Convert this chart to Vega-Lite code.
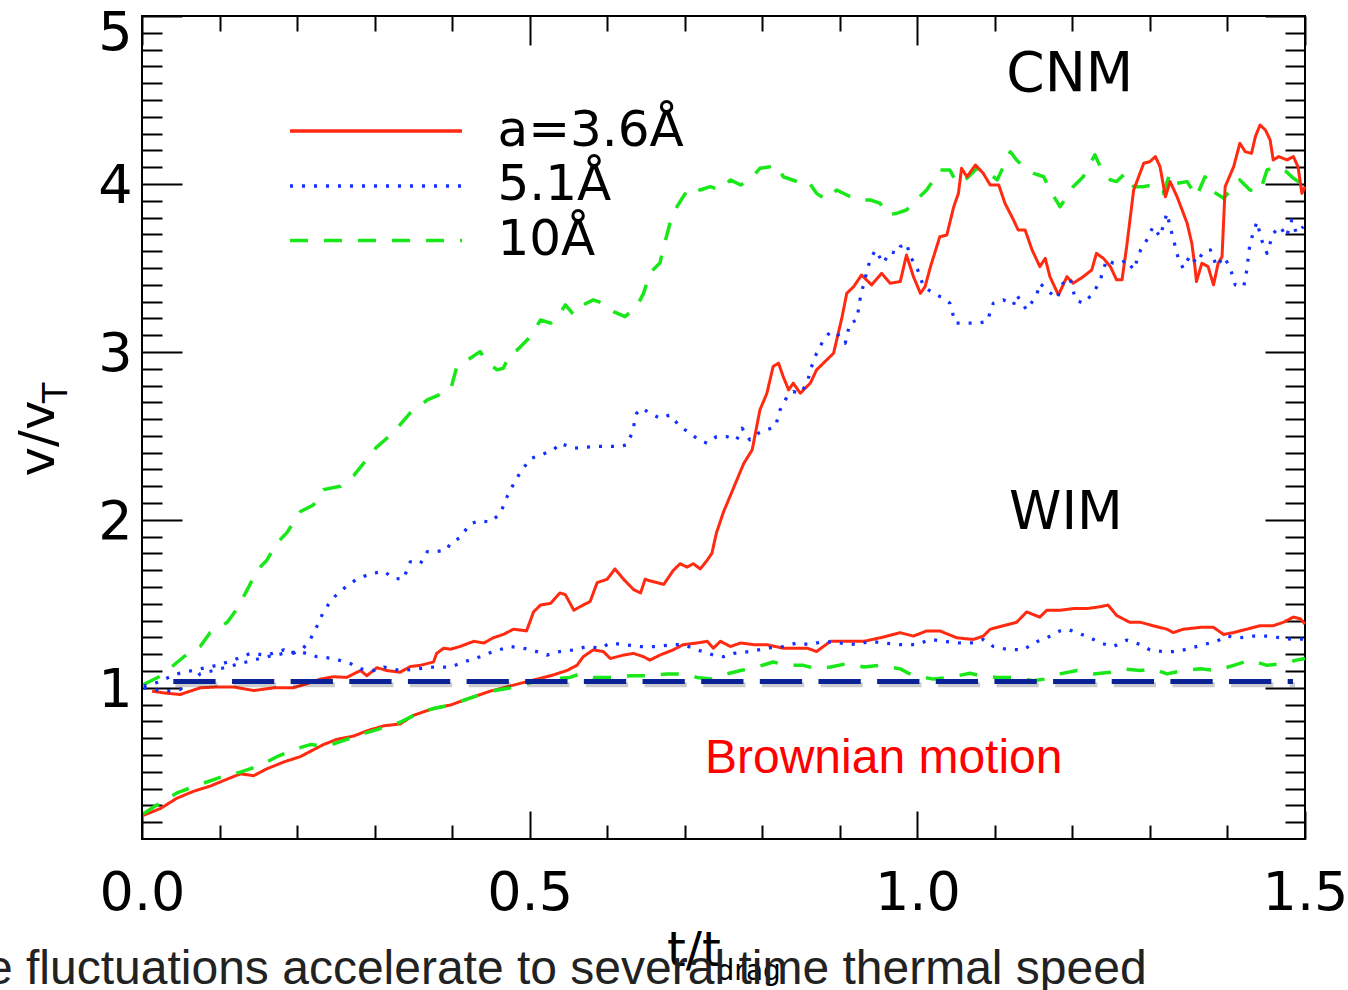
{
"$schema": "https://vega.github.io/schema/vega-lite/v6.json",
"width": 1163, "height": 823,
"autosize": {"type": "none"},
"padding": {"left": 142, "top": 16, "right": 43, "bottom": 151},
"background": "white",
"config": {
  "view": {"stroke": "black", "strokeWidth": 2},
  "axis": {"grid": false, "domain": false, "labelFont": "DejaVu Sans", "titleFont": "DejaVu Sans", "labelColor": "black", "titleColor": "black", "tickColor": "black", "tickWidth": 2, "titleFontWeight": "normal"}
},
"resolve": {"axis": {"x": "independent", "y": "independent"}},
"datasets": {
"curves": [
{"t":0.002,"v":1.02,"a":"10","e":"C"},{"t":0.024,"v":1.07,"a":"10","e":"C"},{"t":0.054,"v":1.185,"a":"10","e":"C"},{"t":0.075,"v":1.246,"a":"10","e":"C"},{"t":0.088,"v":1.33,"a":"10","e":"C"},{"t":0.110,"v":1.39,"a":"10","e":"C"},{"t":0.123,"v":1.473,"a":"10","e":"C"},{"t":0.137,"v":1.595,"a":"10","e":"C"},{"t":0.148,"v":1.698,"a":"10","e":"C"},{"t":0.161,"v":1.76,"a":"10","e":"C"},{"t":0.174,"v":1.863,"a":"10","e":"C"},{"t":0.187,"v":1.924,"a":"10","e":"C"},{"t":0.204,"v":2.048,"a":"10","e":"C"},{"t":0.221,"v":2.089,"a":"10","e":"C"},{"t":0.234,"v":2.18,"a":"10","e":"C"},{"t":0.256,"v":2.2,"a":"10","e":"C"},{"t":0.273,"v":2.263,"a":"10","e":"C"},{"t":0.290,"v":2.36,"a":"10","e":"C"},{"t":0.302,"v":2.43,"a":"10","e":"C"},{"t":0.324,"v":2.52,"a":"10","e":"C"},{"t":0.346,"v":2.637,"a":"10","e":"C"},{"t":0.368,"v":2.714,"a":"10","e":"C"},{"t":0.398,"v":2.774,"a":"10","e":"C"},{"t":0.406,"v":2.913,"a":"10","e":"C"},{"t":0.420,"v":2.952,"a":"10","e":"C"},{"t":0.436,"v":3.002,"a":"10","e":"C"},{"t":0.445,"v":2.942,"a":"10","e":"C"},{"t":0.458,"v":2.893,"a":"10","e":"C"},{"t":0.466,"v":2.903,"a":"10","e":"C"},{"t":0.475,"v":2.992,"a":"10","e":"C"},{"t":0.484,"v":3.012,"a":"10","e":"C"},{"t":0.501,"v":3.091,"a":"10","e":"C"},{"t":0.514,"v":3.19,"a":"10","e":"C"},{"t":0.527,"v":3.171,"a":"10","e":"C"},{"t":0.535,"v":3.2,"a":"10","e":"C"},{"t":0.546,"v":3.28,"a":"10","e":"C"},{"t":0.557,"v":3.22,"a":"10","e":"C"},{"t":0.569,"v":3.28,"a":"10","e":"C"},{"t":0.582,"v":3.31,"a":"10","e":"C"},{"t":0.595,"v":3.29,"a":"10","e":"C"},{"t":0.608,"v":3.24,"a":"10","e":"C"},{"t":0.623,"v":3.21,"a":"10","e":"C"},{"t":0.638,"v":3.27,"a":"10","e":"C"},{"t":0.647,"v":3.35,"a":"10","e":"C"},{"t":0.655,"v":3.47,"a":"10","e":"C"},{"t":0.668,"v":3.53,"a":"10","e":"C"},{"t":0.673,"v":3.627,"a":"10","e":"C"},{"t":0.681,"v":3.766,"a":"10","e":"C"},{"t":0.690,"v":3.865,"a":"10","e":"C"},{"t":0.698,"v":3.924,"a":"10","e":"C"},{"t":0.707,"v":3.984,"a":"10","e":"C"},{"t":0.720,"v":3.964,"a":"10","e":"C"},{"t":0.733,"v":3.984,"a":"10","e":"C"},{"t":0.746,"v":3.964,"a":"10","e":"C"},{"t":0.759,"v":4.024,"a":"10","e":"C"},{"t":0.772,"v":3.994,"a":"10","e":"C"},{"t":0.784,"v":4.024,"a":"10","e":"C"},{"t":0.797,"v":4.093,"a":"10","e":"C"},{"t":0.810,"v":4.103,"a":"10","e":"C"},{"t":0.819,"v":4.113,"a":"10","e":"C"},{"t":0.827,"v":4.043,"a":"10","e":"C"},{"t":0.845,"v":4.014,"a":"10","e":"C"},{"t":0.858,"v":4.024,"a":"10","e":"C"},{"t":0.870,"v":3.944,"a":"10","e":"C"},{"t":0.883,"v":3.905,"a":"10","e":"C"},{"t":0.896,"v":3.964,"a":"10","e":"C"},{"t":0.909,"v":3.934,"a":"10","e":"C"},{"t":0.922,"v":3.905,"a":"10","e":"C"},{"t":0.939,"v":3.905,"a":"10","e":"C"},{"t":0.952,"v":3.885,"a":"10","e":"C"},{"t":0.961,"v":3.815,"a":"10","e":"C"},{"t":0.974,"v":3.826,"a":"10","e":"C"},{"t":0.986,"v":3.845,"a":"10","e":"C"},{"t":0.999,"v":3.905,"a":"10","e":"C"},{"t":1.012,"v":3.964,"a":"10","e":"C"},{"t":1.021,"v":4.024,"a":"10","e":"C"},{"t":1.029,"v":4.083,"a":"10","e":"C"},{"t":1.042,"v":4.083,"a":"10","e":"C"},{"t":1.051,"v":4.004,"a":"10","e":"C"},{"t":1.064,"v":4.034,"a":"10","e":"C"},{"t":1.077,"v":4.093,"a":"10","e":"C"},{"t":1.090,"v":4.073,"a":"10","e":"C"},{"t":1.103,"v":4.024,"a":"10","e":"C"},{"t":1.111,"v":4.103,"a":"10","e":"C"},{"t":1.120,"v":4.192,"a":"10","e":"C"},{"t":1.128,"v":4.143,"a":"10","e":"C"},{"t":1.137,"v":4.103,"a":"10","e":"C"},{"t":1.150,"v":4.063,"a":"10","e":"C"},{"t":1.163,"v":4.043,"a":"10","e":"C"},{"t":1.171,"v":3.964,"a":"10","e":"C"},{"t":1.184,"v":3.865,"a":"10","e":"C"},{"t":1.193,"v":3.924,"a":"10","e":"C"},{"t":1.201,"v":3.984,"a":"10","e":"C"},{"t":1.214,"v":4.043,"a":"10","e":"C"},{"t":1.223,"v":4.123,"a":"10","e":"C"},{"t":1.229,"v":4.173,"a":"10","e":"C"},{"t":1.236,"v":4.103,"a":"10","e":"C"},{"t":1.249,"v":4.024,"a":"10","e":"C"},{"t":1.257,"v":4.014,"a":"10","e":"C"},{"t":1.268,"v":4.063,"a":"10","e":"C"},{"t":1.279,"v":3.984,"a":"10","e":"C"},{"t":1.292,"v":3.984,"a":"10","e":"C"},{"t":1.304,"v":3.994,"a":"10","e":"C"},{"t":1.317,"v":3.944,"a":"10","e":"C"},{"t":1.326,"v":4.063,"a":"10","e":"C"},{"t":1.335,"v":4.004,"a":"10","e":"C"},{"t":1.348,"v":4.014,"a":"10","e":"C"},{"t":1.360,"v":3.924,"a":"10","e":"C"},{"t":1.371,"v":4.043,"a":"10","e":"C"},{"t":1.382,"v":3.954,"a":"10","e":"C"},{"t":1.395,"v":3.915,"a":"10","e":"C"},{"t":1.408,"v":3.984,"a":"10","e":"C"},{"t":1.416,"v":4.024,"a":"10","e":"C"},{"t":1.429,"v":3.964,"a":"10","e":"C"},{"t":1.442,"v":3.954,"a":"10","e":"C"},{"t":1.451,"v":4.083,"a":"10","e":"C"},{"t":1.464,"v":4.103,"a":"10","e":"C"},{"t":1.476,"v":4.073,"a":"10","e":"C"},{"t":1.485,"v":4.034,"a":"10","e":"C"},{"t":1.498,"v":3.994,"a":"10","e":"C"},

{"t":0.013,"v":0.98,"a":"3.6","e":"C"},{"t":0.028,"v":0.97,"a":"3.6","e":"C"},{"t":0.049,"v":0.96,"a":"3.6","e":"C"},{"t":0.075,"v":1.0,"a":"3.6","e":"C"},{"t":0.097,"v":1.005,"a":"3.6","e":"C"},{"t":0.118,"v":1.005,"a":"3.6","e":"C"},{"t":0.144,"v":0.984,"a":"3.6","e":"C"},{"t":0.170,"v":1.0,"a":"3.6","e":"C"},{"t":0.195,"v":1.0,"a":"3.6","e":"C"},{"t":0.213,"v":1.025,"a":"3.6","e":"C"},{"t":0.230,"v":1.052,"a":"3.6","e":"C"},{"t":0.247,"v":1.066,"a":"3.6","e":"C"},{"t":0.264,"v":1.062,"a":"3.6","e":"C"},{"t":0.273,"v":1.083,"a":"3.6","e":"C"},{"t":0.282,"v":1.103,"a":"3.6","e":"C"},{"t":0.290,"v":1.072,"a":"3.6","e":"C"},{"t":0.303,"v":1.12,"a":"3.6","e":"C"},{"t":0.316,"v":1.103,"a":"3.6","e":"C"},{"t":0.333,"v":1.093,"a":"3.6","e":"C"},{"t":0.346,"v":1.127,"a":"3.6","e":"C"},{"t":0.359,"v":1.134,"a":"3.6","e":"C"},{"t":0.376,"v":1.154,"a":"3.6","e":"C"},{"t":0.380,"v":1.205,"a":"3.6","e":"C"},{"t":0.389,"v":1.236,"a":"3.6","e":"C"},{"t":0.398,"v":1.23,"a":"3.6","e":"C"},{"t":0.410,"v":1.246,"a":"3.6","e":"C"},{"t":0.428,"v":1.277,"a":"3.6","e":"C"},{"t":0.441,"v":1.267,"a":"3.6","e":"C"},{"t":0.453,"v":1.298,"a":"3.6","e":"C"},{"t":0.466,"v":1.318,"a":"3.6","e":"C"},{"t":0.479,"v":1.349,"a":"3.6","e":"C"},{"t":0.496,"v":1.339,"a":"3.6","e":"C"},{"t":0.505,"v":1.452,"a":"3.6","e":"C"},{"t":0.514,"v":1.493,"a":"3.6","e":"C"},{"t":0.527,"v":1.503,"a":"3.6","e":"C"},{"t":0.539,"v":1.565,"a":"3.6","e":"C"},{"t":0.546,"v":1.555,"a":"3.6","e":"C"},{"t":0.557,"v":1.462,"a":"3.6","e":"C"},{"t":0.569,"v":1.493,"a":"3.6","e":"C"},{"t":0.578,"v":1.514,"a":"3.6","e":"C"},{"t":0.587,"v":1.626,"a":"3.6","e":"C"},{"t":0.600,"v":1.647,"a":"3.6","e":"C"},{"t":0.610,"v":1.708,"a":"3.6","e":"C"},{"t":0.621,"v":1.647,"a":"3.6","e":"C"},{"t":0.634,"v":1.585,"a":"3.6","e":"C"},{"t":0.643,"v":1.565,"a":"3.6","e":"C"},{"t":0.649,"v":1.647,"a":"3.6","e":"C"},{"t":0.655,"v":1.637,"a":"3.6","e":"C"},{"t":0.673,"v":1.616,"a":"3.6","e":"C"},{"t":0.685,"v":1.698,"a":"3.6","e":"C"},{"t":0.694,"v":1.739,"a":"3.6","e":"C"},{"t":0.703,"v":1.719,"a":"3.6","e":"C"},{"t":0.711,"v":1.739,"a":"3.6","e":"C"},{"t":0.720,"v":1.708,"a":"3.6","e":"C"},{"t":0.729,"v":1.76,"a":"3.6","e":"C"},{"t":0.735,"v":1.801,"a":"3.6","e":"C"},{"t":0.741,"v":1.924,"a":"3.6","e":"C"},{"t":0.750,"v":2.047,"a":"3.6","e":"C"},{"t":0.763,"v":2.191,"a":"3.6","e":"C"},{"t":0.776,"v":2.335,"a":"3.6","e":"C"},{"t":0.787,"v":2.417,"a":"3.6","e":"C"},{"t":0.797,"v":2.655,"a":"3.6","e":"C"},{"t":0.806,"v":2.754,"a":"3.6","e":"C"},{"t":0.814,"v":2.913,"a":"3.6","e":"C"},{"t":0.821,"v":2.933,"a":"3.6","e":"C"},{"t":0.827,"v":2.853,"a":"3.6","e":"C"},{"t":0.834,"v":2.774,"a":"3.6","e":"C"},{"t":0.840,"v":2.814,"a":"3.6","e":"C"},{"t":0.849,"v":2.754,"a":"3.6","e":"C"},{"t":0.862,"v":2.814,"a":"3.6","e":"C"},{"t":0.870,"v":2.893,"a":"3.6","e":"C"},{"t":0.883,"v":2.952,"a":"3.6","e":"C"},{"t":0.892,"v":2.992,"a":"3.6","e":"C"},{"t":0.898,"v":3.111,"a":"3.6","e":"C"},{"t":0.903,"v":3.21,"a":"3.6","e":"C"},{"t":0.909,"v":3.349,"a":"3.6","e":"C"},{"t":0.918,"v":3.389,"a":"3.6","e":"C"},{"t":0.928,"v":3.458,"a":"3.6","e":"C"},{"t":0.941,"v":3.399,"a":"3.6","e":"C"},{"t":0.954,"v":3.468,"a":"3.6","e":"C"},{"t":0.965,"v":3.409,"a":"3.6","e":"C"},{"t":0.978,"v":3.419,"a":"3.6","e":"C"},{"t":0.986,"v":3.577,"a":"3.6","e":"C"},{"t":0.995,"v":3.448,"a":"3.6","e":"C"},{"t":1.004,"v":3.349,"a":"3.6","e":"C"},{"t":1.010,"v":3.389,"a":"3.6","e":"C"},{"t":1.017,"v":3.508,"a":"3.6","e":"C"},{"t":1.029,"v":3.686,"a":"3.6","e":"C"},{"t":1.038,"v":3.696,"a":"3.6","e":"C"},{"t":1.047,"v":3.865,"a":"3.6","e":"C"},{"t":1.053,"v":3.944,"a":"3.6","e":"C"},{"t":1.057,"v":4.093,"a":"3.6","e":"C"},{"t":1.064,"v":4.043,"a":"3.6","e":"C"},{"t":1.075,"v":4.113,"a":"3.6","e":"C"},{"t":1.085,"v":4.063,"a":"3.6","e":"C"},{"t":1.094,"v":3.994,"a":"3.6","e":"C"},{"t":1.105,"v":3.994,"a":"3.6","e":"C"},{"t":1.113,"v":3.885,"a":"3.6","e":"C"},{"t":1.124,"v":3.786,"a":"3.6","e":"C"},{"t":1.130,"v":3.726,"a":"3.6","e":"C"},{"t":1.139,"v":3.726,"a":"3.6","e":"C"},{"t":1.148,"v":3.607,"a":"3.6","e":"C"},{"t":1.158,"v":3.508,"a":"3.6","e":"C"},{"t":1.165,"v":3.557,"a":"3.6","e":"C"},{"t":1.171,"v":3.448,"a":"3.6","e":"C"},{"t":1.182,"v":3.339,"a":"3.6","e":"C"},{"t":1.193,"v":3.448,"a":"3.6","e":"C"},{"t":1.201,"v":3.409,"a":"3.6","e":"C"},{"t":1.214,"v":3.448,"a":"3.6","e":"C"},{"t":1.225,"v":3.488,"a":"3.6","e":"C"},{"t":1.231,"v":3.587,"a":"3.6","e":"C"},{"t":1.240,"v":3.557,"a":"3.6","e":"C"},{"t":1.249,"v":3.508,"a":"3.6","e":"C"},{"t":1.257,"v":3.429,"a":"3.6","e":"C"},{"t":1.264,"v":3.429,"a":"3.6","e":"C"},{"t":1.270,"v":3.627,"a":"3.6","e":"C"},{"t":1.279,"v":3.964,"a":"3.6","e":"C"},{"t":1.292,"v":4.123,"a":"3.6","e":"C"},{"t":1.300,"v":4.133,"a":"3.6","e":"C"},{"t":1.307,"v":4.163,"a":"3.6","e":"C"},{"t":1.313,"v":4.103,"a":"3.6","e":"C"},{"t":1.320,"v":3.924,"a":"3.6","e":"C"},{"t":1.326,"v":4.014,"a":"3.6","e":"C"},{"t":1.335,"v":3.924,"a":"3.6","e":"C"},{"t":1.348,"v":3.766,"a":"3.6","e":"C"},{"t":1.354,"v":3.647,"a":"3.6","e":"C"},{"t":1.358,"v":3.508,"a":"3.6","e":"C"},{"t":1.360,"v":3.419,"a":"3.6","e":"C"},{"t":1.367,"v":3.528,"a":"3.6","e":"C"},{"t":1.375,"v":3.508,"a":"3.6","e":"C"},{"t":1.382,"v":3.399,"a":"3.6","e":"C"},{"t":1.388,"v":3.528,"a":"3.6","e":"C"},{"t":1.393,"v":3.567,"a":"3.6","e":"C"},{"t":1.397,"v":3.984,"a":"3.6","e":"C"},{"t":1.408,"v":4.103,"a":"3.6","e":"C"},{"t":1.416,"v":4.242,"a":"3.6","e":"C"},{"t":1.423,"v":4.192,"a":"3.6","e":"C"},{"t":1.431,"v":4.182,"a":"3.6","e":"C"},{"t":1.436,"v":4.282,"a":"3.6","e":"C"},{"t":1.442,"v":4.351,"a":"3.6","e":"C"},{"t":1.449,"v":4.321,"a":"3.6","e":"C"},{"t":1.455,"v":4.262,"a":"3.6","e":"C"},{"t":1.459,"v":4.143,"a":"3.6","e":"C"},{"t":1.466,"v":4.163,"a":"3.6","e":"C"},{"t":1.477,"v":4.143,"a":"3.6","e":"C"},{"t":1.485,"v":4.163,"a":"3.6","e":"C"},{"t":1.491,"v":4.103,"a":"3.6","e":"C"},{"t":1.496,"v":3.944,"a":"3.6","e":"C"},{"t":1.500,"v":3.984,"a":"3.6","e":"C"},

{"t":0.002,"v":1.011,"a":"5.1","e":"C"},{"t":0.019,"v":1.031,"a":"5.1","e":"C"},{"t":0.045,"v":1.083,"a":"5.1","e":"C"},{"t":0.075,"v":1.113,"a":"5.1","e":"C"},{"t":0.097,"v":1.134,"a":"5.1","e":"C"},{"t":0.118,"v":1.165,"a":"5.1","e":"C"},{"t":0.140,"v":1.205,"a":"5.1","e":"C"},{"t":0.161,"v":1.195,"a":"5.1","e":"C"},{"t":0.183,"v":1.226,"a":"5.1","e":"C"},{"t":0.195,"v":1.205,"a":"5.1","e":"C"},{"t":0.208,"v":1.236,"a":"5.1","e":"C"},{"t":0.217,"v":1.288,"a":"5.1","e":"C"},{"t":0.226,"v":1.37,"a":"5.1","e":"C"},{"t":0.234,"v":1.452,"a":"5.1","e":"C"},{"t":0.243,"v":1.514,"a":"5.1","e":"C"},{"t":0.251,"v":1.555,"a":"5.1","e":"C"},{"t":0.264,"v":1.606,"a":"5.1","e":"C"},{"t":0.277,"v":1.647,"a":"5.1","e":"C"},{"t":0.294,"v":1.678,"a":"5.1","e":"C"},{"t":0.312,"v":1.694,"a":"5.1","e":"C"},{"t":0.324,"v":1.653,"a":"5.1","e":"C"},{"t":0.337,"v":1.647,"a":"5.1","e":"C"},{"t":0.346,"v":1.75,"a":"5.1","e":"C"},{"t":0.359,"v":1.739,"a":"5.1","e":"C"},{"t":0.368,"v":1.811,"a":"5.1","e":"C"},{"t":0.380,"v":1.811,"a":"5.1","e":"C"},{"t":0.393,"v":1.821,"a":"5.1","e":"C"},{"t":0.398,"v":1.863,"a":"5.1","e":"C"},{"t":0.410,"v":1.893,"a":"5.1","e":"C"},{"t":0.423,"v":1.976,"a":"5.1","e":"C"},{"t":0.436,"v":1.996,"a":"5.1","e":"C"},{"t":0.449,"v":1.986,"a":"5.1","e":"C"},{"t":0.462,"v":2.037,"a":"5.1","e":"C"},{"t":0.471,"v":2.139,"a":"5.1","e":"C"},{"t":0.479,"v":2.211,"a":"5.1","e":"C"},{"t":0.488,"v":2.283,"a":"5.1","e":"C"},{"t":0.501,"v":2.365,"a":"5.1","e":"C"},{"t":0.514,"v":2.386,"a":"5.1","e":"C"},{"t":0.531,"v":2.417,"a":"5.1","e":"C"},{"t":0.539,"v":2.456,"a":"5.1","e":"C"},{"t":0.557,"v":2.427,"a":"5.1","e":"C"},{"t":0.587,"v":2.437,"a":"5.1","e":"C"},{"t":0.613,"v":2.437,"a":"5.1","e":"C"},{"t":0.625,"v":2.446,"a":"5.1","e":"C"},{"t":0.632,"v":2.516,"a":"5.1","e":"C"},{"t":0.638,"v":2.635,"a":"5.1","e":"C"},{"t":0.645,"v":2.665,"a":"5.1","e":"C"},{"t":0.655,"v":2.635,"a":"5.1","e":"C"},{"t":0.668,"v":2.605,"a":"5.1","e":"C"},{"t":0.681,"v":2.625,"a":"5.1","e":"C"},{"t":0.694,"v":2.555,"a":"5.1","e":"C"},{"t":0.707,"v":2.516,"a":"5.1","e":"C"},{"t":0.718,"v":2.476,"a":"5.1","e":"C"},{"t":0.729,"v":2.456,"a":"5.1","e":"C"},{"t":0.741,"v":2.496,"a":"5.1","e":"C"},{"t":0.754,"v":2.496,"a":"5.1","e":"C"},{"t":0.767,"v":2.476,"a":"5.1","e":"C"},{"t":0.774,"v":2.546,"a":"5.1","e":"C"},{"t":0.784,"v":2.476,"a":"5.1","e":"C"},{"t":0.795,"v":2.516,"a":"5.1","e":"C"},{"t":0.806,"v":2.536,"a":"5.1","e":"C"},{"t":0.817,"v":2.555,"a":"5.1","e":"C"},{"t":0.823,"v":2.655,"a":"5.1","e":"C"},{"t":0.832,"v":2.734,"a":"5.1","e":"C"},{"t":0.840,"v":2.764,"a":"5.1","e":"C"},{"t":0.849,"v":2.754,"a":"5.1","e":"C"},{"t":0.858,"v":2.814,"a":"5.1","e":"C"},{"t":0.862,"v":2.893,"a":"5.1","e":"C"},{"t":0.870,"v":2.992,"a":"5.1","e":"C"},{"t":0.879,"v":3.071,"a":"5.1","e":"C"},{"t":0.888,"v":3.121,"a":"5.1","e":"C"},{"t":0.896,"v":3.111,"a":"5.1","e":"C"},{"t":0.907,"v":3.052,"a":"5.1","e":"C"},{"t":0.913,"v":3.171,"a":"5.1","e":"C"},{"t":0.922,"v":3.19,"a":"5.1","e":"C"},{"t":0.926,"v":3.31,"a":"5.1","e":"C"},{"t":0.931,"v":3.409,"a":"5.1","e":"C"},{"t":0.939,"v":3.548,"a":"5.1","e":"C"},{"t":0.946,"v":3.607,"a":"5.1","e":"C"},{"t":0.956,"v":3.528,"a":"5.1","e":"C"},{"t":0.965,"v":3.597,"a":"5.1","e":"C"},{"t":0.974,"v":3.587,"a":"5.1","e":"C"},{"t":0.978,"v":3.627,"a":"5.1","e":"C"},{"t":0.986,"v":3.647,"a":"5.1","e":"C"},{"t":0.991,"v":3.567,"a":"5.1","e":"C"},{"t":0.999,"v":3.508,"a":"5.1","e":"C"},{"t":1.008,"v":3.389,"a":"5.1","e":"C"},{"t":1.021,"v":3.349,"a":"5.1","e":"C"},{"t":1.034,"v":3.319,"a":"5.1","e":"C"},{"t":1.042,"v":3.29,"a":"5.1","e":"C"},{"t":1.049,"v":3.171,"a":"5.1","e":"C"},{"t":1.064,"v":3.171,"a":"5.1","e":"C"},{"t":1.077,"v":3.171,"a":"5.1","e":"C"},{"t":1.090,"v":3.181,"a":"5.1","e":"C"},{"t":1.098,"v":3.29,"a":"5.1","e":"C"},{"t":1.111,"v":3.31,"a":"5.1","e":"C"},{"t":1.124,"v":3.28,"a":"5.1","e":"C"},{"t":1.128,"v":3.339,"a":"5.1","e":"C"},{"t":1.141,"v":3.25,"a":"5.1","e":"C"},{"t":1.154,"v":3.339,"a":"5.1","e":"C"},{"t":1.158,"v":3.409,"a":"5.1","e":"C"},{"t":1.167,"v":3.369,"a":"5.1","e":"C"},{"t":1.180,"v":3.319,"a":"5.1","e":"C"},{"t":1.188,"v":3.409,"a":"5.1","e":"C"},{"t":1.197,"v":3.439,"a":"5.1","e":"C"},{"t":1.204,"v":3.31,"a":"5.1","e":"C"},{"t":1.214,"v":3.29,"a":"5.1","e":"C"},{"t":1.227,"v":3.349,"a":"5.1","e":"C"},{"t":1.236,"v":3.429,"a":"5.1","e":"C"},{"t":1.244,"v":3.548,"a":"5.1","e":"C"},{"t":1.253,"v":3.528,"a":"5.1","e":"C"},{"t":1.262,"v":3.528,"a":"5.1","e":"C"},{"t":1.270,"v":3.548,"a":"5.1","e":"C"},{"t":1.279,"v":3.488,"a":"5.1","e":"C"},{"t":1.288,"v":3.607,"a":"5.1","e":"C"},{"t":1.296,"v":3.667,"a":"5.1","e":"C"},{"t":1.304,"v":3.746,"a":"5.1","e":"C"},{"t":1.313,"v":3.686,"a":"5.1","e":"C"},{"t":1.322,"v":3.826,"a":"5.1","e":"C"},{"t":1.326,"v":3.746,"a":"5.1","e":"C"},{"t":1.330,"v":3.676,"a":"5.1","e":"C"},{"t":1.337,"v":3.548,"a":"5.1","e":"C"},{"t":1.343,"v":3.498,"a":"5.1","e":"C"},{"t":1.352,"v":3.577,"a":"5.1","e":"C"},{"t":1.360,"v":3.528,"a":"5.1","e":"C"},{"t":1.369,"v":3.597,"a":"5.1","e":"C"},{"t":1.378,"v":3.607,"a":"5.1","e":"C"},{"t":1.386,"v":3.508,"a":"5.1","e":"C"},{"t":1.395,"v":3.567,"a":"5.1","e":"C"},{"t":1.403,"v":3.508,"a":"5.1","e":"C"},{"t":1.410,"v":3.399,"a":"5.1","e":"C"},{"t":1.421,"v":3.389,"a":"5.1","e":"C"},{"t":1.425,"v":3.488,"a":"5.1","e":"C"},{"t":1.429,"v":3.647,"a":"5.1","e":"C"},{"t":1.438,"v":3.775,"a":"5.1","e":"C"},{"t":1.444,"v":3.667,"a":"5.1","e":"C"},{"t":1.451,"v":3.587,"a":"5.1","e":"C"},{"t":1.459,"v":3.706,"a":"5.1","e":"C"},{"t":1.468,"v":3.746,"a":"5.1","e":"C"},{"t":1.476,"v":3.686,"a":"5.1","e":"C"},{"t":1.483,"v":3.786,"a":"5.1","e":"C"},{"t":1.489,"v":3.706,"a":"5.1","e":"C"},{"t":1.498,"v":3.746,"a":"5.1","e":"C"},

{"t":0.002,"v":0.241,"a":"3.6","e":"W"},{"t":0.024,"v":0.282,"a":"3.6","e":"W"},{"t":0.045,"v":0.343,"a":"3.6","e":"W"},{"t":0.067,"v":0.385,"a":"3.6","e":"W"},{"t":0.088,"v":0.415,"a":"3.6","e":"W"},{"t":0.110,"v":0.457,"a":"3.6","e":"W"},{"t":0.127,"v":0.488,"a":"3.6","e":"W"},{"t":0.144,"v":0.477,"a":"3.6","e":"W"},{"t":0.161,"v":0.518,"a":"3.6","e":"W"},{"t":0.183,"v":0.559,"a":"3.6","e":"W"},{"t":0.204,"v":0.59,"a":"3.6","e":"W"},{"t":0.221,"v":0.631,"a":"3.6","e":"W"},{"t":0.234,"v":0.662,"a":"3.6","e":"W"},{"t":0.251,"v":0.693,"a":"3.6","e":"W"},{"t":0.273,"v":0.713,"a":"3.6","e":"W"},{"t":0.290,"v":0.744,"a":"3.6","e":"W"},{"t":0.312,"v":0.774,"a":"3.6","e":"W"},{"t":0.333,"v":0.785,"a":"3.6","e":"W"},{"t":0.350,"v":0.836,"a":"3.6","e":"W"},{"t":0.363,"v":0.857,"a":"3.6","e":"W"},{"t":0.376,"v":0.877,"a":"3.6","e":"W"},{"t":0.398,"v":0.898,"a":"3.6","e":"W"},{"t":0.423,"v":0.939,"a":"3.6","e":"W"},{"t":0.449,"v":0.98,"a":"3.6","e":"W"},{"t":0.475,"v":1.011,"a":"3.6","e":"W"},{"t":0.501,"v":1.042,"a":"3.6","e":"W"},{"t":0.527,"v":1.072,"a":"3.6","e":"W"},{"t":0.548,"v":1.103,"a":"3.6","e":"W"},{"t":0.561,"v":1.134,"a":"3.6","e":"W"},{"t":0.569,"v":1.185,"a":"3.6","e":"W"},{"t":0.582,"v":1.226,"a":"3.6","e":"W"},{"t":0.595,"v":1.216,"a":"3.6","e":"W"},{"t":0.604,"v":1.175,"a":"3.6","e":"W"},{"t":0.621,"v":1.195,"a":"3.6","e":"W"},{"t":0.634,"v":1.205,"a":"3.6","e":"W"},{"t":0.647,"v":1.185,"a":"3.6","e":"W"},{"t":0.655,"v":1.165,"a":"3.6","e":"W"},{"t":0.668,"v":1.195,"a":"3.6","e":"W"},{"t":0.685,"v":1.226,"a":"3.6","e":"W"},{"t":0.698,"v":1.257,"a":"3.6","e":"W"},{"t":0.716,"v":1.267,"a":"3.6","e":"W"},{"t":0.729,"v":1.277,"a":"3.6","e":"W"},{"t":0.737,"v":1.236,"a":"3.6","e":"W"},{"t":0.746,"v":1.277,"a":"3.6","e":"W"},{"t":0.759,"v":1.246,"a":"3.6","e":"W"},{"t":0.772,"v":1.267,"a":"3.6","e":"W"},{"t":0.789,"v":1.257,"a":"3.6","e":"W"},{"t":0.806,"v":1.257,"a":"3.6","e":"W"},{"t":0.827,"v":1.236,"a":"3.6","e":"W"},{"t":0.845,"v":1.236,"a":"3.6","e":"W"},{"t":0.858,"v":1.236,"a":"3.6","e":"W"},{"t":0.870,"v":1.216,"a":"3.6","e":"W"},{"t":0.888,"v":1.277,"a":"3.6","e":"W"},{"t":0.913,"v":1.277,"a":"3.6","e":"W"},{"t":0.931,"v":1.277,"a":"3.6","e":"W"},{"t":0.952,"v":1.298,"a":"3.6","e":"W"},{"t":0.978,"v":1.328,"a":"3.6","e":"W"},{"t":0.995,"v":1.308,"a":"3.6","e":"W"},{"t":1.012,"v":1.339,"a":"3.6","e":"W"},{"t":1.029,"v":1.339,"a":"3.6","e":"W"},{"t":1.051,"v":1.298,"a":"3.6","e":"W"},{"t":1.072,"v":1.288,"a":"3.6","e":"W"},{"t":1.085,"v":1.308,"a":"3.6","e":"W"},{"t":1.094,"v":1.349,"a":"3.6","e":"W"},{"t":1.111,"v":1.37,"a":"3.6","e":"W"},{"t":1.128,"v":1.39,"a":"3.6","e":"W"},{"t":1.141,"v":1.452,"a":"3.6","e":"W"},{"t":1.158,"v":1.421,"a":"3.6","e":"W"},{"t":1.167,"v":1.462,"a":"3.6","e":"W"},{"t":1.184,"v":1.462,"a":"3.6","e":"W"},{"t":1.201,"v":1.472,"a":"3.6","e":"W"},{"t":1.219,"v":1.472,"a":"3.6","e":"W"},{"t":1.236,"v":1.483,"a":"3.6","e":"W"},{"t":1.246,"v":1.493,"a":"3.6","e":"W"},{"t":1.257,"v":1.431,"a":"3.6","e":"W"},{"t":1.274,"v":1.39,"a":"3.6","e":"W"},{"t":1.288,"v":1.39,"a":"3.6","e":"W"},{"t":1.304,"v":1.37,"a":"3.6","e":"W"},{"t":1.322,"v":1.349,"a":"3.6","e":"W"},{"t":1.330,"v":1.329,"a":"3.6","e":"W"},{"t":1.343,"v":1.349,"a":"3.6","e":"W"},{"t":1.365,"v":1.36,"a":"3.6","e":"W"},{"t":1.382,"v":1.36,"a":"3.6","e":"W"},{"t":1.395,"v":1.318,"a":"3.6","e":"W"},{"t":1.408,"v":1.329,"a":"3.6","e":"W"},{"t":1.425,"v":1.349,"a":"3.6","e":"W"},{"t":1.442,"v":1.37,"a":"3.6","e":"W"},{"t":1.459,"v":1.37,"a":"3.6","e":"W"},{"t":1.472,"v":1.39,"a":"3.6","e":"W"},{"t":1.485,"v":1.421,"a":"3.6","e":"W"},{"t":1.494,"v":1.411,"a":"3.6","e":"W"},{"t":1.500,"v":1.38,"a":"3.6","e":"W"},

{"t":0.002,"v":0.251,"a":"10","e":"W"},{"t":0.019,"v":0.302,"a":"10","e":"W"},{"t":0.045,"v":0.374,"a":"10","e":"W"},{"t":0.075,"v":0.426,"a":"10","e":"W"},{"t":0.101,"v":0.467,"a":"10","e":"W"},{"t":0.127,"v":0.498,"a":"10","e":"W"},{"t":0.153,"v":0.539,"a":"10","e":"W"},{"t":0.174,"v":0.59,"a":"10","e":"W"},{"t":0.195,"v":0.631,"a":"10","e":"W"},{"t":0.217,"v":0.662,"a":"10","e":"W"},{"t":0.239,"v":0.652,"a":"10","e":"W"},{"t":0.264,"v":0.693,"a":"10","e":"W"},{"t":0.290,"v":0.733,"a":"10","e":"W"},{"t":0.312,"v":0.764,"a":"10","e":"W"},{"t":0.333,"v":0.795,"a":"10","e":"W"},{"t":0.355,"v":0.846,"a":"10","e":"W"},{"t":0.376,"v":0.877,"a":"10","e":"W"},{"t":0.398,"v":0.898,"a":"10","e":"W"},{"t":0.423,"v":0.939,"a":"10","e":"W"},{"t":0.449,"v":0.98,"a":"10","e":"W"},{"t":0.475,"v":1.0,"a":"10","e":"W"},{"t":0.501,"v":1.031,"a":"10","e":"W"},{"t":0.527,"v":1.052,"a":"10","e":"W"},{"t":0.552,"v":1.062,"a":"10","e":"W"},{"t":0.565,"v":1.083,"a":"10","e":"W"},{"t":0.582,"v":1.062,"a":"10","e":"W"},{"t":0.608,"v":1.062,"a":"10","e":"W"},{"t":0.630,"v":1.072,"a":"10","e":"W"},{"t":0.655,"v":1.072,"a":"10","e":"W"},{"t":0.677,"v":1.083,"a":"10","e":"W"},{"t":0.698,"v":1.083,"a":"10","e":"W"},{"t":0.716,"v":1.062,"a":"10","e":"W"},{"t":0.733,"v":1.052,"a":"10","e":"W"},{"t":0.754,"v":1.083,"a":"10","e":"W"},{"t":0.772,"v":1.103,"a":"10","e":"W"},{"t":0.793,"v":1.124,"a":"10","e":"W"},{"t":0.814,"v":1.154,"a":"10","e":"W"},{"t":0.832,"v":1.134,"a":"10","e":"W"},{"t":0.853,"v":1.134,"a":"10","e":"W"},{"t":0.870,"v":1.113,"a":"10","e":"W"},{"t":0.888,"v":1.124,"a":"10","e":"W"},{"t":0.909,"v":1.144,"a":"10","e":"W"},{"t":0.931,"v":1.124,"a":"10","e":"W"},{"t":0.952,"v":1.134,"a":"10","e":"W"},{"t":0.978,"v":1.113,"a":"10","e":"W"},{"t":0.995,"v":1.072,"a":"10","e":"W"},{"t":1.021,"v":1.052,"a":"10","e":"W"},{"t":1.042,"v":1.062,"a":"10","e":"W"},{"t":1.068,"v":1.087,"a":"10","e":"W"},{"t":1.081,"v":1.072,"a":"10","e":"W"},{"t":1.103,"v":1.062,"a":"10","e":"W"},{"t":1.124,"v":1.062,"a":"10","e":"W"},{"t":1.150,"v":1.042,"a":"10","e":"W"},{"t":1.163,"v":1.052,"a":"10","e":"W"},{"t":1.184,"v":1.083,"a":"10","e":"W"},{"t":1.206,"v":1.103,"a":"10","e":"W"},{"t":1.227,"v":1.083,"a":"10","e":"W"},{"t":1.249,"v":1.093,"a":"10","e":"W"},{"t":1.266,"v":1.113,"a":"10","e":"W"},{"t":1.288,"v":1.103,"a":"10","e":"W"},{"t":1.304,"v":1.113,"a":"10","e":"W"},{"t":1.322,"v":1.083,"a":"10","e":"W"},{"t":1.343,"v":1.103,"a":"10","e":"W"},{"t":1.365,"v":1.113,"a":"10","e":"W"},{"t":1.386,"v":1.103,"a":"10","e":"W"},{"t":1.408,"v":1.134,"a":"10","e":"W"},{"t":1.429,"v":1.165,"a":"10","e":"W"},{"t":1.451,"v":1.134,"a":"10","e":"W"},{"t":1.472,"v":1.144,"a":"10","e":"W"},{"t":1.489,"v":1.165,"a":"10","e":"W"},{"t":1.500,"v":1.175,"a":"10","e":"W"},

{"t":0.002,"v":1.0,"a":"5.1","e":"W"},{"t":0.028,"v":0.98,"a":"5.1","e":"W"},{"t":0.049,"v":0.99,"a":"5.1","e":"W"},{"t":0.075,"v":1.083,"a":"5.1","e":"W"},{"t":0.118,"v":1.134,"a":"5.1","e":"W"},{"t":0.161,"v":1.185,"a":"5.1","e":"W"},{"t":0.183,"v":1.205,"a":"5.1","e":"W"},{"t":0.204,"v":1.216,"a":"5.1","e":"W"},{"t":0.226,"v":1.185,"a":"5.1","e":"W"},{"t":0.247,"v":1.175,"a":"5.1","e":"W"},{"t":0.269,"v":1.144,"a":"5.1","e":"W"},{"t":0.282,"v":1.113,"a":"5.1","e":"W"},{"t":0.299,"v":1.103,"a":"5.1","e":"W"},{"t":0.312,"v":1.124,"a":"5.1","e":"W"},{"t":0.333,"v":1.103,"a":"5.1","e":"W"},{"t":0.355,"v":1.113,"a":"5.1","e":"W"},{"t":0.376,"v":1.124,"a":"5.1","e":"W"},{"t":0.398,"v":1.124,"a":"5.1","e":"W"},{"t":0.415,"v":1.154,"a":"5.1","e":"W"},{"t":0.436,"v":1.185,"a":"5.1","e":"W"},{"t":0.453,"v":1.216,"a":"5.1","e":"W"},{"t":0.475,"v":1.246,"a":"5.1","e":"W"},{"t":0.492,"v":1.236,"a":"5.1","e":"W"},{"t":0.509,"v":1.216,"a":"5.1","e":"W"},{"t":0.522,"v":1.195,"a":"5.1","e":"W"},{"t":0.539,"v":1.216,"a":"5.1","e":"W"},{"t":0.557,"v":1.226,"a":"5.1","e":"W"},{"t":0.574,"v":1.246,"a":"5.1","e":"W"},{"t":0.591,"v":1.236,"a":"5.1","e":"W"},{"t":0.604,"v":1.267,"a":"5.1","e":"W"},{"t":0.621,"v":1.257,"a":"5.1","e":"W"},{"t":0.643,"v":1.246,"a":"5.1","e":"W"},{"t":0.664,"v":1.246,"a":"5.1","e":"W"},{"t":0.685,"v":1.257,"a":"5.1","e":"W"},{"t":0.698,"v":1.257,"a":"5.1","e":"W"},{"t":0.716,"v":1.226,"a":"5.1","e":"W"},{"t":0.737,"v":1.195,"a":"5.1","e":"W"},{"t":0.750,"v":1.185,"a":"5.1","e":"W"},{"t":0.763,"v":1.205,"a":"5.1","e":"W"},{"t":0.784,"v":1.216,"a":"5.1","e":"W"},{"t":0.806,"v":1.236,"a":"5.1","e":"W"},{"t":0.827,"v":1.246,"a":"5.1","e":"W"},{"t":0.845,"v":1.267,"a":"5.1","e":"W"},{"t":0.862,"v":1.257,"a":"5.1","e":"W"},{"t":0.879,"v":1.277,"a":"5.1","e":"W"},{"t":0.900,"v":1.267,"a":"5.1","e":"W"},{"t":0.922,"v":1.257,"a":"5.1","e":"W"},{"t":0.939,"v":1.277,"a":"5.1","e":"W"},{"t":0.956,"v":1.267,"a":"5.1","e":"W"},{"t":0.978,"v":1.257,"a":"5.1","e":"W"},{"t":0.999,"v":1.257,"a":"5.1","e":"W"},{"t":1.017,"v":1.288,"a":"5.1","e":"W"},{"t":1.034,"v":1.277,"a":"5.1","e":"W"},{"t":1.055,"v":1.267,"a":"5.1","e":"W"},{"t":1.072,"v":1.267,"a":"5.1","e":"W"},{"t":1.085,"v":1.288,"a":"5.1","e":"W"},{"t":1.098,"v":1.246,"a":"5.1","e":"W"},{"t":1.115,"v":1.23,"a":"5.1","e":"W"},{"t":1.137,"v":1.226,"a":"5.1","e":"W"},{"t":1.150,"v":1.267,"a":"5.1","e":"W"},{"t":1.167,"v":1.298,"a":"5.1","e":"W"},{"t":1.184,"v":1.339,"a":"5.1","e":"W"},{"t":1.193,"v":1.349,"a":"5.1","e":"W"},{"t":1.206,"v":1.329,"a":"5.1","e":"W"},{"t":1.223,"v":1.298,"a":"5.1","e":"W"},{"t":1.236,"v":1.267,"a":"5.1","e":"W"},{"t":1.253,"v":1.246,"a":"5.1","e":"W"},{"t":1.270,"v":1.284,"a":"5.1","e":"W"},{"t":1.288,"v":1.257,"a":"5.1","e":"W"},{"t":1.300,"v":1.226,"a":"5.1","e":"W"},{"t":1.317,"v":1.216,"a":"5.1","e":"W"},{"t":1.335,"v":1.216,"a":"5.1","e":"W"},{"t":1.352,"v":1.236,"a":"5.1","e":"W"},{"t":1.369,"v":1.257,"a":"5.1","e":"W"},{"t":1.386,"v":1.277,"a":"5.1","e":"W"},{"t":1.399,"v":1.308,"a":"5.1","e":"W"},{"t":1.416,"v":1.298,"a":"5.1","e":"W"},{"t":1.433,"v":1.308,"a":"5.1","e":"W"},{"t":1.451,"v":1.308,"a":"5.1","e":"W"},{"t":1.468,"v":1.298,"a":"5.1","e":"W"},{"t":1.485,"v":1.288,"a":"5.1","e":"W"},{"t":1.500,"v":1.291,"a":"5.1","e":"W"}
]
},
"layer": [
{
  "data": {"name": "curves"},
  "mark": {"type": "line", "strokeJoin": "round"},
  "encoding": {
    "x": {"field": "t", "type": "quantitative", "scale": {"domain": [0, 1.5], "nice": false, "zero": false},
      "axis": {"orient": "bottom", "values": [0, 0.5, 1, 1.5], "format": ".1f", "ticks": false, "labelFontSize": 54, "labelPadding": 27, "labelFlush": false, "labelOverlap": false,
               "title": "t/t", "titleFontSize": 48, "titleX": 524.5, "titleY": 126, "titleAlign": "left", "titleBaseline": "alphabetic"}},
    "y": {"field": "v", "type": "quantitative", "scale": {"domain": [0.1, 5], "nice": false, "zero": false},
      "axis": {"orient": "left", "values": [1, 2, 3, 4, 5], "format": "d", "ticks": false, "labelFontSize": 54, "labelPadding": 10, "labelOverlap": false,
               "labelOffset": {"condition": {"test": "datum.value > 4.5", "value": 17}, "value": 3},
               "title": "v/v", "titleFontSize": 50, "titleAngle": 270, "titleX": -89, "titleY": 422, "titleAlign": "center", "titleBaseline": "alphabetic"}},
    "color": {"field": "a", "type": "nominal", "scale": {"domain": ["3.6", "5.1", "10"], "range": ["#ff2a10", "#1430ff", "#18e818"]}, "legend": null},
    "strokeDash": {"field": "a", "type": "nominal", "scale": {"domain": ["3.6", "5.1", "10"], "range": [[1, 0], [3, 9], [18, 16]]}, "legend": null},
    "strokeWidth": {"field": "a", "type": "nominal", "scale": {"domain": ["3.6", "5.1", "10"], "range": [3, 3.5, 4]}, "legend": null},
    "detail": {"field": "e", "type": "nominal"}
  }
},
{
  "data": {"values": [{"t0": 0.0430, "t1": 1.4871, "v": 1.019}]},
  "mark": {"type": "rule", "color": "#000000", "opacity": 0.2, "strokeWidth": 5, "strokeDash": [42.3, 16.35]},
  "encoding": {
    "x": {"field": "t0", "type": "quantitative", "scale": {"domain": [0, 1.5], "nice": false, "zero": false}, "axis": null},
    "x2": {"field": "t1"},
    "y": {"field": "v", "type": "quantitative", "scale": {"domain": [0.1, 5], "nice": false, "zero": false}, "axis": null}
  }
},
{
  "data": {"values": [{"t0": 0.0404, "t1": 1.4845, "v": 1.037}]},
  "mark": {"type": "rule", "color": "#0b2196", "strokeWidth": 5, "strokeDash": [42.3, 16.35]},
  "encoding": {
    "x": {"field": "t0", "type": "quantitative", "scale": {"domain": [0, 1.5], "nice": false, "zero": false},
      "axis": {"orient": "bottom", "values": [0, 0.1, 0.2, 0.3, 0.4, 0.5, 0.6, 0.7, 0.8, 0.9, 1, 1.1, 1.2, 1.3, 1.4, 1.5], "labels": false, "title": null,
               "tickSize": {"condition": {"test": "abs(datum.value*2 - round(datum.value*2)) < 0.001", "value": -28}, "value": -14}}},
    "x2": {"field": "t1"},
    "y": {"field": "v", "type": "quantitative", "scale": {"domain": [0.1, 5], "nice": false, "zero": false},
      "axis": {"orient": "left", "values": [0.2,0.3,0.4,0.5,0.6,0.7,0.8,0.9,1,1.1,1.2,1.3,1.4,1.5,1.6,1.7,1.8,1.9,2,2.1,2.2,2.3,2.4,2.5,2.6,2.7,2.8,2.9,3,3.1,3.2,3.3,3.4,3.5,3.6,3.7,3.8,3.9,4,4.1,4.2,4.3,4.4,4.5,4.6,4.7,4.8,4.9,5], "labels": false, "title": null,
               "tickSize": {"condition": {"test": "abs(datum.value - round(datum.value)) < 0.001", "value": -40}, "value": -20}}}
  }
},
{
  "data": {"values": [{"label": "CNM", "t": 1.1147, "v": 4.5554}]},
  "mark": {"type": "text", "font": "DejaVu Sans", "fontSize": 55, "align": "left", "baseline": "alphabetic", "color": "black"},
  "encoding": {
    "x": {"field": "t", "type": "quantitative", "scale": {"domain": [0, 1.5], "nice": false, "zero": false},
      "axis": {"orient": "top", "values": [0, 0.1, 0.2, 0.3, 0.4, 0.5, 0.6, 0.7, 0.8, 0.9, 1, 1.1, 1.2, 1.3, 1.4, 1.5], "labels": false, "title": null,
               "tickSize": {"condition": {"test": "abs(datum.value*2 - round(datum.value*2)) < 0.001", "value": -29}, "value": -15}}},
    "y": {"field": "v", "type": "quantitative", "scale": {"domain": [0.1, 5], "nice": false, "zero": false},
      "axis": {"orient": "right", "values": [0.2,0.3,0.4,0.5,0.6,0.7,0.8,0.9,1,1.1,1.2,1.3,1.4,1.5,1.6,1.7,1.8,1.9,2,2.1,2.2,2.3,2.4,2.5,2.6,2.7,2.8,2.9,3,3.1,3.2,3.3,3.4,3.5,3.6,3.7,3.8,3.9,4,4.1,4.2,4.3,4.4,4.5,4.6,4.7,4.8,4.9,5], "labels": false, "title": null,
               "tickSize": {"condition": {"test": "abs(datum.value - round(datum.value)) < 0.001", "value": -40}, "value": -20}}},
    "text": {"field": "label"}
  }
},
{
  "data": {"values": [{"label": "WIM", "t": 1.1182, "v": 1.9446}]},
  "mark": {"type": "text", "font": "DejaVu Sans", "fontSize": 53, "align": "left", "baseline": "alphabetic", "color": "black"},
  "encoding": {
    "x": {"field": "t", "type": "quantitative", "scale": {"domain": [0, 1.5], "nice": false, "zero": false}, "axis": null},
    "y": {"field": "v", "type": "quantitative", "scale": {"domain": [0.1, 5], "nice": false, "zero": false}, "axis": null},
    "text": {"field": "label"}
  }
},
{
  "data": {"values": [{"label": "Brownian motion", "t": 0.7261, "v": 0.4958}]},
  "mark": {"type": "text", "font": "Liberation Sans", "fontSize": 48, "align": "left", "baseline": "alphabetic", "color": "#ff0000"},
  "encoding": {
    "x": {"field": "t", "type": "quantitative", "scale": {"domain": [0, 1.5], "nice": false, "zero": false}, "axis": null},
    "y": {"field": "v", "type": "quantitative", "scale": {"domain": [0.1, 5], "nice": false, "zero": false}, "axis": null},
    "text": {"field": "label"}
  }
},
{
  "data": {"values": [{"a": "3.6", "t0": 0.1909, "t1": 0.4127, "v": 4.3155}, {"a": "5.1", "t0": 0.1909, "t1": 0.4127, "v": 3.988}, {"a": "10", "t0": 0.1909, "t1": 0.4127, "v": 3.6627}]},
  "mark": {"type": "rule", "strokeWidth": 3.5},
  "encoding": {
    "x": {"field": "t0", "type": "quantitative", "scale": {"domain": [0, 1.5], "nice": false, "zero": false}, "axis": null},
    "x2": {"field": "t1"},
    "y": {"field": "v", "type": "quantitative", "scale": {"domain": [0.1, 5], "nice": false, "zero": false}, "axis": null},
    "color": {"field": "a", "type": "nominal", "scale": {"domain": ["3.6", "5.1", "10"], "range": ["#ff2a10", "#1430ff", "#18e818"]}, "legend": null},
    "strokeDash": {"field": "a", "type": "nominal", "scale": {"domain": ["3.6", "5.1", "10"], "range": [[1, 0], [3, 9], [18, 16]]}, "legend": null}
  }
},
{
  "data": {"values": [{"label": "a=3.6Å", "t": 0.4585, "v": 4.2262}, {"label": "5.1Å", "t": 0.4585, "v": 3.9048}, {"label": "10Å", "t": 0.4585, "v": 3.5774}]},
  "mark": {"type": "text", "font": "DejaVu Sans", "fontSize": 50, "align": "left", "baseline": "alphabetic", "color": "black"},
  "encoding": {
    "x": {"field": "t", "type": "quantitative", "scale": {"domain": [0, 1.5], "nice": false, "zero": false}, "axis": null},
    "y": {"field": "v", "type": "quantitative", "scale": {"domain": [0.1, 5], "nice": false, "zero": false}, "axis": null},
    "text": {"field": "label"}
  }
},
{
  "data": {"values": [{"label": "T", "t": -0.0967, "v": 2.756}]},
  "mark": {"type": "text", "font": "DejaVu Sans", "fontSize": 34, "angle": 270, "align": "center", "baseline": "alphabetic", "color": "black"},
  "encoding": {
    "x": {"field": "t", "type": "quantitative", "scale": {"domain": [0, 1.5], "nice": false, "zero": false}, "axis": null},
    "y": {"field": "v", "type": "quantitative", "scale": {"domain": [0.1, 5], "nice": false, "zero": false}, "axis": null},
    "text": {"field": "label"}
  }
},
{
  "data": {"values": [{"label": "drag", "t": 0.7411, "v": -0.738}]},
  "mark": {"type": "text", "font": "DejaVu Sans", "fontSize": 28, "align": "left", "baseline": "alphabetic", "color": "black"},
  "encoding": {
    "x": {"field": "t", "type": "quantitative", "scale": {"domain": [0, 1.5], "nice": false, "zero": false}, "axis": null},
    "y": {"field": "v", "type": "quantitative", "scale": {"domain": [0.1, 5], "nice": false, "zero": false}, "axis": null},
    "text": {"field": "label"}
  }
},
{
  "data": {"values": [{"label": "e fluctuations accelerate to several time thermal speed", "t": -0.2012, "v": -0.762}]},
  "mark": {"type": "text", "font": "Liberation Sans", "fontSize": 48, "align": "left", "baseline": "alphabetic", "color": "#222222"},
  "encoding": {
    "x": {"field": "t", "type": "quantitative", "scale": {"domain": [0, 1.5], "nice": false, "zero": false}, "axis": null},
    "y": {"field": "v", "type": "quantitative", "scale": {"domain": [0.1, 5], "nice": false, "zero": false}, "axis": null},
    "text": {"field": "label"}
  }
}
]
}
